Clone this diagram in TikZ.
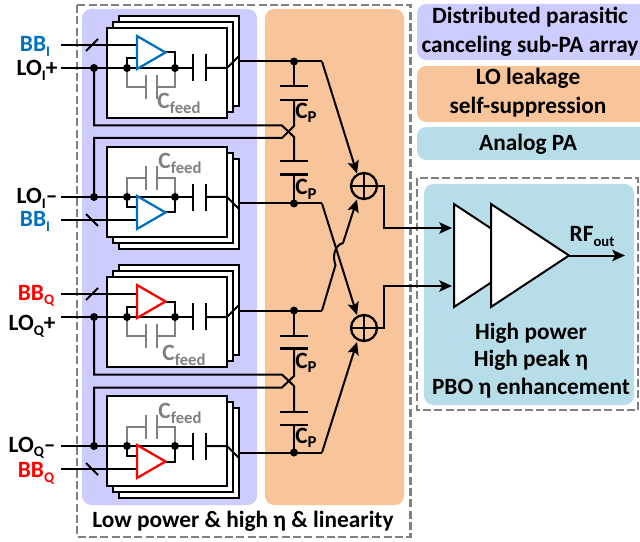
\documentclass[tikz,border=0pt]{standalone}
\usepackage{fontspec}
\setmainfont{Carlito}[BoldFont={Carlito Bold}]
\usetikzlibrary{arrows.meta,calc}
\definecolor{panelpurple}{HTML}{CCCCFF}
\definecolor{panelorange}{HTML}{F8C49A}
\definecolor{panelcyan}{HTML}{B7DDE8}
\definecolor{boxgrey}{HTML}{808080}
\definecolor{iblue}{HTML}{0070C0}
\definecolor{qred}{HTML}{FF0000}
\newcommand{\lowtxt}[2][11]{\smash{\raisebox{-0.2em}{\fontsize{#1}{#1}\selectfont #2}}}
\newcommand{\capfeed}{\textcolor{boxgrey}{C\lowtxt[12.5]{feed}}}
\newcommand{\capp}{C\lowtxt[12.5]{P}}
\tikzset{
  x=0.75pt,y=-0.75pt,
  wire/.style={line width=1.5pt,draw=black,line join=miter},
  gwire/.style={line width=1.5pt,draw=boxgrey},
  plate/.style={line width=1.6pt,draw=black},
  gplate/.style={line width=1.6pt,draw=boxgrey},
  stackbox/.style={line width=1.5pt,draw=black,fill=white},
  dashbox/.style={line width=1.6pt,draw=boxgrey,dash pattern=on 6pt off 2.5pt},
  panel/.style={rounded corners=7pt},
  junction/.style={circle,fill=black,inner sep=0pt,minimum size=6pt},
  arr/.style={-{Stealth[length=9.5pt,width=8.5pt,inset=2pt]}},
  txt/.style={font=\bfseries\fontsize{17.5}{17.5}\selectfont,inner sep=0pt,align=center},
  lab/.style={txt,anchor=center,text height=10.5pt,text depth=0pt},
  sumnode/.style={circle,draw=black,line width=1.7pt,inner sep=0pt,minimum size=19.5pt},
  patri/.style={line width=1.5pt,draw=black,fill=white,line join=miter}
}
% #1 name, #2 LO y, #3 sign, #4 colour
\newcommand{\subpa}[4]{%
\begin{scope}[shift={(0,#2)},yscale=#3]
  \draw[stackbox] (119,-52) rectangle (239,38);
  \draw[stackbox] (113,-46) rectangle (233,44);
  \draw[stackbox] (107,-40) rectangle (227,50);
  \coordinate (#1in) at (61,0);
  \coordinate (#1bb) at (61,-23);
  \coordinate (#1bbt) at (137,-23);
  \coordinate (#1a) at (94,0);
  \coordinate (#1b) at (127,0);
  \coordinate (#1c) at (175,0);
  \coordinate (#1p) at (193,0);
  \coordinate (#1q) at (206,0);
  \coordinate (#1e) at (227,0);
  \coordinate (#1f) at (239,-12);
  \coordinate (#1o) at (239,-6.5);
  \coordinate (#1t1) at (137,-32);
  \coordinate (#1t2) at (137,1);
  \coordinate (#1t3) at (165.5,-15.5);
  \coordinate (#1fl) at (146,19);
  \coordinate (#1fr) at (157,19);
  % feedback capacitor
  \draw[gwire] (#1b) |- (#1fl);
  \draw[gwire] (#1c) |- (#1fr);
  \draw[gplate] (146,7) -- (146,31);
  \draw[gplate] (157,7) -- (157,31);
  % LO path
  \draw[wire] (#1in) -- (#1p);
  \draw[plate] (193,-14) -- (193,13);
  \draw[plate] (206,-14) -- (206,13);
  \draw[wire] (#1q) -- (#1e) -- (#1f);
  % amp
  \draw[wire] (#1bb) -- (#1bbt);
  \draw[wire] (#1b) -- (127,-10) -- (137,-10);
  \draw[wire] (#1t3) -- (175,-15.5) -- (#1c);
  \draw[line width=1.7pt,draw=#4,fill=white,line join=miter] (#1t1) -- (#1t2) -- (#1t3) -- cycle;
  \draw[wire] (86,-17) -- (98,-29);
  \node[junction] at (#1a) {};
  \node[junction] at (#1b) {};
  \node[junction] at (#1c) {};
\end{scope}}
\begin{document}
\begin{tikzpicture}
\useasboundingbox (0,0) rectangle (640,542);
% panels
\fill[panelpurple,panel] (82,9) rectangle (257,505);
\fill[panelorange,panel] (265,9) rectangle (404,505);
\fill[panelpurple,panel] (417,4) rectangle (650,60);
\fill[panelorange,panel] (417,66) rectangle (650,122);
\fill[panelcyan,panel] (417,127) rectangle (650,160);
\fill[panelcyan,panel] (424,184) rectangle (634,405);
\draw[dashbox] (77,5) rectangle (410.5,537);
\draw[dashbox] (417,178) rectangle (638,410);
% legend texts
\node[txt] (legA) at (530,32) {Distributed parasitic\\[4.2pt]canceling sub-PA array};
\node[txt] (legB) at (528,93) {LO leakage\\[4.2pt]self-suppression};
\node[txt] (legC) at (528,144) {Analog PA};
\node[txt] (lowlab) at (243,521) {Low power \& high η \& linearity};
% sub-PA blocks
\subpa{u}{68}{1}{iblue}
\subpa{v}{197}{-1}{iblue}
\subpa{w}{317}{1}{qred}
\subpa{z}{446}{-1}{qred}
% input labels
\node[lab,text=iblue] (l1) at (35,44.5) {BB\lowtxt{I}};
\node[lab] (l2) at (37,68.5) {LO\lowtxt{I}+};
\node[lab] (l3) at (37,197) {LO\lowtxt{I}–};
\node[lab,text=iblue] (l4) at (35,219.5) {BB\lowtxt{I}};
\node[lab,text=qred] (l5) at (36,293) {BB\lowtxt{Q}};
\node[lab] (l6) at (32,323.5) {LO\lowtxt{Q}+};
\node[lab] (l7) at (32,445) {LO\lowtxt{Q}–};
\node[lab,text=qred] (l8) at (36,470.5) {BB\lowtxt{Q}};
% feedback labels
\node[lab] (f1) at (179,101.5) {\capfeed};
\node[lab] (f2) at (180,161.5) {\capfeed};
\node[lab] (f3) at (184,353.5) {\capfeed};
\node[lab] (f4) at (180,411.5) {\capfeed};
% capacitor ladder coordinates
\coordinate (n1) at (294,61.5);
\coordinate (n2) at (294,203.5);
\coordinate (n3) at (294,310.5);
\coordinate (n4) at (294,452.5);
\coordinate (k1) at (322,61.5);
\coordinate (k2) at (322,203.5);
\coordinate (k3) at (322,310.5);
\coordinate (k4) at (322,452.5);
\node[sumnode] (s1) at (364,186) {};
\node[sumnode] (s2) at (364,328) {};
\draw[wire] (s1.north) -- (s1.south);
\draw[wire] (s1.west) -- (s1.east);
\draw[wire] (s2.north) -- (s2.south);
\draw[wire] (s2.west) -- (s2.east);
% outputs to junctions
\draw[wire] (uo) -- (n1) -- (k1);
\draw[wire] (vo) -- (n2) -- (k2);
\draw[wire] (wo) -- (n3) -- (k3);
\draw[wire] (zo) -- (n4) -- (k4);
\node[junction] at (n1) {};
\node[junction] at (n2) {};
\node[junction] at (n3) {};
\node[junction] at (n4) {};
% combiner routes
\draw[wire,arr] (k1) -- (357,173.5);
\draw[wire,arr] (k2) -- (357,315);
\draw[wire,arr] (k3) -- (335.5,265) .. controls (332,256) and (335,245) .. (343,243) -- (357,199.5);
\draw[wire,arr] (k4) -- (357,342);
% upper ladder with crossing
\draw[wire] (n1) -- (294,86);
\draw[plate] (280,86) -- (308,86);
\draw[plate] (280,100) -- (308,100);
\draw[wire] (294,100) -- (294,126) -- (282,138) -- (94,138) -- (va);
\draw[wire] (ua) -- (94,125.5) -- (282,125.5) -- (294,137) -- (294,161);
\draw[plate] (280,161) -- (308,161);
\draw[plate] (280,174.5) -- (308,174.5);
\draw[wire] (294,174.5) -- (n2);
% lower ladder with crossing
\draw[wire] (n3) -- (294,336);
\draw[plate] (280,336) -- (308,336);
\draw[plate] (280,348.5) -- (308,348.5);
\draw[wire] (294,348.5) -- (294,376) -- (282,387.5) -- (94,387.5) -- (za);
\draw[wire] (wa) -- (94,374.5) -- (282,374.5) -- (294,386) -- (294,412);
\draw[plate] (280,412) -- (308,412);
\draw[plate] (280,425) -- (308,425);
\draw[wire] (294,425) -- (n4);
% Cp labels
\node[lab] (c1) at (306,111) {\capp};
\node[lab] (c2) at (306,187.5) {\capp};
\node[lab] (c3) at (306,361) {\capp};
\node[lab] (c4) at (306,436) {\capp};
% power amplifier
\coordinate (a1) at (454,204);
\coordinate (a2) at (454,307);
\coordinate (a3) at (532,255.5);
\coordinate (b1) at (491,204);
\coordinate (b2) at (491,307);
\coordinate (b3) at (569,255.5);
\draw[patri] (a1) -- (a2) -- (a3) -- cycle;
\draw[patri] (b1) -- (b2) -- (b3) -- cycle;
\draw[wire,arr] (s1.east) -- (384,186) -- (384,228) -- (452,228);
\draw[wire,arr] (s2.east) -- (384,328) -- (384,286) -- (452,286);
\coordinate (rfend) at (625,255.5);
\draw[wire,arr] (b3) -- (rfend);
\node[lab] (rf) at (592,235) {RF\lowtxt{out}};
\node[txt] (pal) at (531,360.5) {High power\\[3pt]High peak η\\[3pt]PBO η enhancement};
\end{tikzpicture}
\end{document}
